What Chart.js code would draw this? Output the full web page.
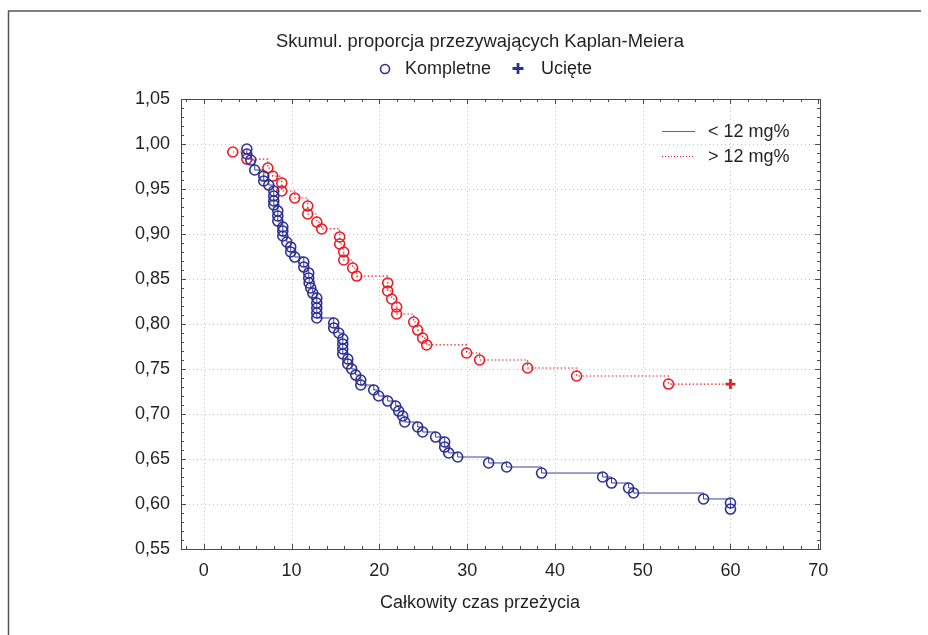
<!DOCTYPE html>
<html>
<head>
<meta charset="utf-8">
<script src="https://cdn.jsdelivr.net/npm/chart.js@4.4.0/dist/chart.umd.min.js"></script>
<style>
  html, body { margin: 0; padding: 0; background: #fff; }
  #wrap { width: 928px; height: 635px; position: relative; }
</style>
</head>
<body>
<div id="wrap"><canvas id="km"></canvas></div>
<script>
// czasy i skumulowane proporcje (grupa < 12 mg%)
var lowTimes = [4.9, 4.9, 5.35, 5.8, 6.83, 6.83, 7.4, 7.97, 7.97, 7.97, 7.97, 8.43, 8.43, 8.43, 9.0, 9.0, 9.0,
  9.45, 9.9, 9.9, 10.36, 11.39, 11.39, 11.95, 11.95, 12.0, 12.18, 12.41, 12.87, 12.87, 12.87, 12.87, 12.87,
  14.8, 14.8, 15.37, 15.83, 15.83, 15.83, 15.83, 16.4, 16.4, 16.85, 17.3, 17.88, 17.88, 19.36, 19.92, 20.95,
  21.86, 22.2, 22.66, 22.89, 24.37, 24.93, 26.41, 27.44, 27.44, 27.9, 28.92, 32.45, 34.5, 38.48, 45.43,
  46.45, 48.39, 48.96, 56.93, 60, 60];
var lowSurv = [0.9944, 0.9889, 0.9822, 0.9711, 0.9644, 0.9589, 0.9544, 0.9478, 0.9422, 0.9367, 0.9322,
  0.9256, 0.92, 0.9144, 0.9078, 0.9033, 0.8978, 0.8911, 0.8856, 0.88, 0.8744, 0.8689, 0.8633, 0.8567, 0.8511,
  0.8456, 0.84, 0.8344, 0.8289, 0.8233, 0.8178, 0.8122, 0.8067, 0.8011, 0.7956, 0.79, 0.7833, 0.7778, 0.7722,
  0.7667, 0.7611, 0.7556, 0.75, 0.7433, 0.7378, 0.7322, 0.7267, 0.72, 0.7144, 0.7089, 0.7033, 0.6978, 0.6911,
  0.6856, 0.68, 0.6744, 0.6689, 0.6633, 0.6567, 0.6522, 0.6456, 0.6411, 0.6344, 0.63, 0.6233, 0.6178, 0.6122,
  0.6056, 0.6011, 0.5944];

// grupa > 12 mg%
var highTimes = [3.3, 4.9, 7.29, 7.86, 8.88, 8.88, 10.36, 11.84, 11.84, 12.87, 13.43, 15.48, 15.48, 15.94,
  15.94, 16.96, 17.42, 20.95, 20.95, 21.4, 21.97, 21.97, 23.91, 24.37, 24.93, 25.39, 29.94, 31.42, 36.89,
  42.47, 52.94];
var highSurv = [0.9911, 0.9833, 0.9733, 0.9644, 0.9567, 0.9478, 0.94, 0.9311, 0.9222, 0.9133, 0.9056, 0.8967,
  0.8889, 0.88, 0.8711, 0.8622, 0.8533, 0.8456, 0.8367, 0.8278, 0.8189, 0.8111, 0.8022, 0.7933, 0.7844,
  0.7767, 0.7678, 0.76, 0.7511, 0.7422, 0.7333];
// obserwacje ucięte
var highCensTimes = [60];
var highCensSurv = [0.7333];

var xTicks = [0, 10, 20, 30, 40, 50, 60, 70];
var yTicks = [0.55, 0.60, 0.65, 0.70, 0.75, 0.80, 0.85, 0.90, 0.95, 1.00, 1.05];

var titleText = 'Skumul. proporcja przezywających Kaplan-Meiera';
var xTitle = 'Całkowity czas przeżycia';
var seriesNames = ['< 12 mg%', '> 12 mg%'];
var markerNames = ['Kompletne', 'Ucięte'];

var BLUE = '#2e3192';
var BLUE_LINE = '#3a3f9e';
var RED = '#ed1c24';
var TXT = '#231f20';
var FONT = '"Liberation Sans", Arial, sans-serif';

function pts(xs, ys) {
  return xs.map(function (x, i) { return { x: x, y: ys[i] }; });
}

var lowData = pts(lowTimes, lowSurv);
var highData = pts(highTimes, highSurv).concat(pts(highCensTimes, highCensSurv));
var highStyles = highData.map(function (p, i) { return i < highTimes.length ? 'circle' : 'cross'; });
var highWidths = highData.map(function (p, i) { return i < highTimes.length ? 1.6 : 2.8; });
var highRadius = highData.map(function (p, i) { return i < highTimes.length ? 5 : 5; });

function fmt(v) { return v.toFixed(2).replace('.', ','); }

var decor = {
  id: 'decor',
  beforeDatasetsDraw: function (chart) {
    var ctx = chart.ctx, a = chart.chartArea;
    var sx = chart.scales.x, sy = chart.scales.y;
    ctx.save();
    ctx.strokeStyle = '#c8c8c8';
    ctx.lineWidth = 1;
    ctx.setLineDash([1, 3]);
    xTicks.forEach(function (v) {
      var px = Math.round(sx.getPixelForValue(v)) + 0.5;
      if (px > a.right - 3) return;
      ctx.beginPath(); ctx.moveTo(px, a.top); ctx.lineTo(px, a.bottom); ctx.stroke();
    });
    yTicks.forEach(function (v) {
      var py = Math.round(sy.getPixelForValue(v)) + 0.5;
      if (py < a.top + 3 || py > a.bottom - 3) return;
      ctx.beginPath(); ctx.moveTo(a.left, py); ctx.lineTo(a.right, py); ctx.stroke();
    });
    ctx.restore();
  },
  afterDraw: function (chart) {
    var ctx = chart.ctx, a = chart.chartArea;
    var sx = chart.scales.x, sy = chart.scales.y;
    ctx.save();

    // ramka strony
    ctx.strokeStyle = '#555';
    ctx.lineWidth = 1.5;
    ctx.beginPath();
    ctx.moveTo(8.5, 635); ctx.lineTo(8.5, 11); ctx.lineTo(921, 11);
    ctx.stroke();

    // ramka wykresu
    ctx.strokeStyle = '#4a4a4a';
    ctx.lineWidth = 1;
    ctx.strokeRect(Math.round(a.left) + 0.5, Math.round(a.top) + 0.5,
      Math.round(a.right - a.left), Math.round(a.bottom - a.top));

    // znaczniki do wewnatrz
    ctx.beginPath();
    var v, px, py, len;
    for (v = -2; v <= 70; v += 2) {
      px = Math.round(sx.getPixelForValue(v)) + 0.5;
      len = (v % 10 === 0) ? 5 : 3;
      ctx.moveTo(px, a.bottom); ctx.lineTo(px, a.bottom - len);
      ctx.moveTo(px, a.top); ctx.lineTo(px, a.top + len);
    }
    for (var k = 55; k <= 105; k++) {
      py = Math.round(sy.getPixelForValue(k / 100)) + 0.5;
      len = (k % 5 === 0) ? 5 : 3;
      ctx.moveTo(a.left, py); ctx.lineTo(a.left + len, py);
      ctx.moveTo(a.right, py); ctx.lineTo(a.right - len, py);
    }
    ctx.stroke();

    // tytul
    ctx.fillStyle = TXT;
    ctx.font = '18.4px ' + FONT;
    ctx.textBaseline = 'middle';
    ctx.textAlign = 'center';
    ctx.fillText(titleText, 480, 42);
    ctx.font = '18px ' + FONT;
    ctx.fillText(xTitle, 480, 603);

    // legenda znacznikow
    ctx.textAlign = 'left';
    ctx.strokeStyle = BLUE;
    ctx.lineWidth = 1.6;
    ctx.beginPath(); ctx.arc(385, 69, 4.5, 0, Math.PI * 2); ctx.stroke();
    ctx.fillText(markerNames[0], 405, 69);
    ctx.lineWidth = 2.8;
    ctx.beginPath();
    ctx.moveTo(512.5, 68.5); ctx.lineTo(523.5, 68.5);
    ctx.moveTo(518, 63); ctx.lineTo(518, 74);
    ctx.stroke();
    ctx.fillText(markerNames[1], 541, 69);

    // legenda serii
    ctx.lineWidth = 1;
    ctx.strokeStyle = '#5a5fb0';
    ctx.beginPath(); ctx.moveTo(662, 131.5); ctx.lineTo(695, 131.5); ctx.stroke();
    ctx.strokeStyle = RED;
    ctx.setLineDash([1, 2]);
    ctx.beginPath(); ctx.moveTo(662, 156.5); ctx.lineTo(695, 156.5); ctx.stroke();
    ctx.setLineDash([]);
    ctx.fillText(seriesNames[0], 708, 132);
    ctx.fillText(seriesNames[1], 708, 157);

    ctx.restore();
  }
};

new Chart(document.getElementById('km'), {
  type: 'line',
  data: {
    datasets: [
      {
        label: seriesNames[0],
        data: lowData,
        stepped: true,
        borderColor: BLUE_LINE,
        borderWidth: 1,
        pointStyle: 'circle',
        pointRadius: 5,
        pointBorderWidth: 1.6,
        pointBorderColor: BLUE,
        pointBackgroundColor: 'rgba(0,0,0,0)',
        fill: false
      },
      {
        label: seriesNames[1],
        data: highData,
        stepped: true,
        borderColor: RED,
        borderWidth: 1.2,
        borderDash: [1.5, 2.2],
        pointStyle: highStyles,
        pointRadius: highRadius,
        pointBorderWidth: highWidths,
        pointBorderColor: RED,
        pointBackgroundColor: 'rgba(0,0,0,0)',
        fill: false
      }
    ]
  },
  options: {
    responsive: true,
    maintainAspectRatio: false,
    devicePixelRatio: 1,
    animation: false,
    parsing: false,
    layout: { padding: { top: 99, right: 108, bottom: 0, left: 0 } },
    plugins: { legend: { display: false }, title: { display: false }, tooltip: { enabled: false } },
    scales: {
      x: {
        type: 'linear',
        min: -2.6,
        max: 70.2,
        afterBuildTicks: function (s) { s.ticks = xTicks.map(function (v) { return { value: v }; }); },
        afterFit: function (s) { s.height = 86; },
        grid: { display: false, drawTicks: false },
        border: { display: false },
        ticks: { color: TXT, font: { size: 18, family: FONT }, padding: 11, maxRotation: 0, autoSkip: false }
      },
      y: {
        type: 'linear',
        min: 0.55,
        max: 1.05,
        afterBuildTicks: function (s) { s.ticks = yTicks.map(function (v) { return { value: v }; }); },
        afterFit: function (s) { s.width = 181; },
        grid: { display: false, drawTicks: false },
        border: { display: false },
        ticks: {
          color: TXT, font: { size: 18, family: FONT }, padding: 11, autoSkip: false,
          callback: function (v) { return fmt(v); }
        }
      }
    }
  },
  plugins: [decor]
});
</script>
</body>
</html>
